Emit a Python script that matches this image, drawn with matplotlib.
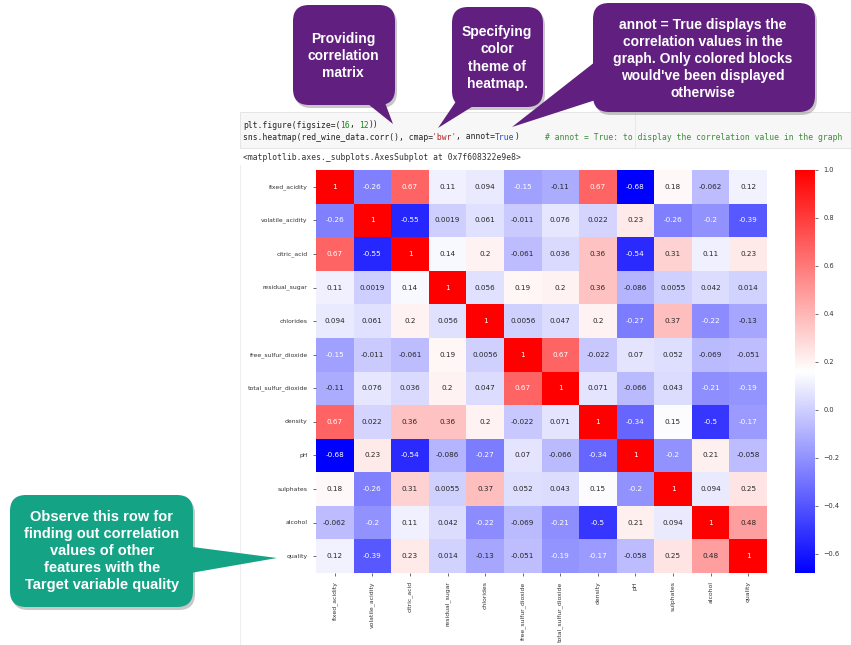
import numpy as np
import matplotlib.pyplot as plt
import seaborn as sns
from matplotlib.patches import FancyBboxPatch, Polygon, Rectangle

features = ['fixed_acidity', 'volatile_acidity', 'citric_acid', 'residual_sugar',
            'chlorides', 'free_sulfur_dioxide', 'total_sulfur_dioxide', 'density',
            'pH', 'sulphates', 'alcohol', 'quality']

corr_rows = [
    [1, -0.26, 0.67, 0.11, 0.094, -0.15, -0.11, 0.67, -0.68, 0.18, -0.062, 0.12],
    [-0.26, 1, -0.55, 0.0019, 0.061, -0.011, 0.076, 0.022, 0.23, -0.26, -0.2, -0.39],
    [0.67, -0.55, 1, 0.14, 0.2, -0.061, 0.036, 0.36, -0.54, 0.31, 0.11, 0.23],
    [0.11, 0.0019, 0.14, 1, 0.056, 0.19, 0.2, 0.36, -0.086, 0.0055, 0.042, 0.014],
    [0.094, 0.061, 0.2, 0.056, 1, 0.0056, 0.047, 0.2, -0.27, 0.37, -0.22, -0.13],
    [-0.15, -0.011, -0.061, 0.19, 0.0056, 1, 0.67, -0.022, 0.07, 0.052, -0.069, -0.051],
    [-0.11, 0.076, 0.036, 0.2, 0.047, 0.67, 1, 0.071, -0.066, 0.043, -0.21, -0.19],
    [0.67, 0.022, 0.36, 0.36, 0.2, -0.022, 0.071, 1, -0.34, 0.15, -0.5, -0.17],
    [-0.68, 0.23, -0.54, -0.086, -0.27, 0.07, -0.066, -0.34, 1, -0.2, 0.21, -0.058],
    [0.18, -0.26, 0.31, 0.0055, 0.37, 0.052, 0.043, 0.15, -0.2, 1, 0.094, 0.25],
    [-0.062, -0.2, 0.11, 0.042, -0.22, -0.069, -0.21, -0.5, 0.21, 0.094, 1, 0.48],
    [0.12, -0.39, 0.23, 0.014, -0.13, -0.051, -0.19, -0.17, -0.058, 0.25, 0.48, 1],
]

callout_texts = [
    "Providing\ncorrelation\nmatrix",
    "Specifying\ncolor\ntheme of\nheatmap.",
    "annot = True displays the\ncorrelation values in the\ngraph. Only colored blocks\nwould've been displayed\notherwise",
]
note_text = ("Observe this row for\nfinding out correlation\nvalues of other\n"
             "features with the\nTarget variable quality")

W, H = 851, 645
fig = plt.figure(figsize=(W / 100, H / 100), dpi=100)

# pixel-space layer for the notebook cell and the speech bubbles
bg = fig.add_axes([0, 0, 1, 1])
bg.set_xlim(0, W)
bg.set_ylim(H, 0)
bg.axis('off')

ax = fig.add_axes([316 / W, 1 - 573 / H, 451 / W, 403 / H])
cax = fig.add_axes([795 / W, 1 - 573 / H, 20 / W, 403 / H])

corr = np.array(corr_rows)
sns.heatmap(corr, cmap='bwr', annot=True, ax=ax, cbar_ax=cax,
            xticklabels=features, yticklabels=features,
            annot_kws={'fontsize': 5.2})
ax.tick_params(labelsize=4.4, length=2.5, width=0.5, colors='#333333')
ax.set_xticklabels(features, rotation=90)
ax.set_yticklabels(features, rotation=0)
cax.tick_params(labelsize=4.8, length=2.5, width=0.5, colors='#333333')

# code cell
bg.add_patch(Rectangle((240, 112), 611, 36, facecolor='#f7f7f7',
                       edgecolor='#e2e2e2', lw=0.6, zorder=1))
bg.plot([635, 635], [112, 148], color='#e6e6e6', lw=0.6, zorder=2)
bg.plot([240, 240], [165, 645], color='#eeeeee', lw=0.8, zorder=1)

cw = 4.85
mono = dict(family='DejaVu Sans Mono', fontsize=5.8, va='center', zorder=3)
line1 = [("plt.figure(figsize=(", '#222222'), ("16", '#1a8a1a'), (", ", '#222222'),
         ("12", '#1a8a1a'), ("))", '#222222')]
line2 = [("sns.heatmap(red_wine_data.corr(), cmap=", '#222222'), ("'bwr'", '#ba2121'),
         (", annot=", '#222222'), ("True", '#1f4fd0'), (")", '#222222')]
for y, segs in [(125, line1), (137, line2)]:
    x = 243
    for s, c in segs:
        bg.text(x, y, s, color=c, **mono)
        x += len(s) * cw
bg.text(545, 137, "# annot = True: to display the correlation value in the graph",
        color='#3d8b3d', **mono)
bg.text(243, 158, "<matplotlib.axes._subplots.AxesSubplot at 0x7f608322e9e8>",
        color='#333333', **mono)


def bubble(x, y, w, h, tail, color, text, tx, ty, size):
    shadow = FancyBboxPatch((x + 2, y + 3), w, h,
                            boxstyle="round,pad=0,rounding_size=16",
                            facecolor='#777777', edgecolor='none', alpha=0.4, zorder=4)
    bg.add_patch(shadow)
    bg.add_patch(Polygon(tail, closed=True, facecolor=color, edgecolor='none', zorder=5))
    bg.add_patch(FancyBboxPatch((x, y), w, h,
                                boxstyle="round,pad=0,rounding_size=16",
                                facecolor=color, edgecolor='none', zorder=5))
    bg.text(tx, ty, text, color='white', fontsize=size, fontweight='bold',
            family='Liberation Sans', ha='center', va='center',
            linespacing=1.28, zorder=6)


purple = '#61207f'
bubble(293, 5, 102, 100, [(363, 100), (384, 100), (393, 124)], purple,
       callout_texts[0], 343, 56, 10)
bubble(452, 7, 91, 100, [(457, 100), (483, 100), (438, 128)], purple,
       callout_texts[1], 497, 58, 10)
bubble(593, 3, 222, 109, [(600, 58), (608, 96), (512, 127)], purple,
       callout_texts[2], 703, 59, 10)
bubble(10, 495, 183, 112, [(185, 546), (185, 574), (277, 558)], '#15a386',
       note_text, 102, 551, 10.5)

fig.savefig('out.png', dpi=100)
